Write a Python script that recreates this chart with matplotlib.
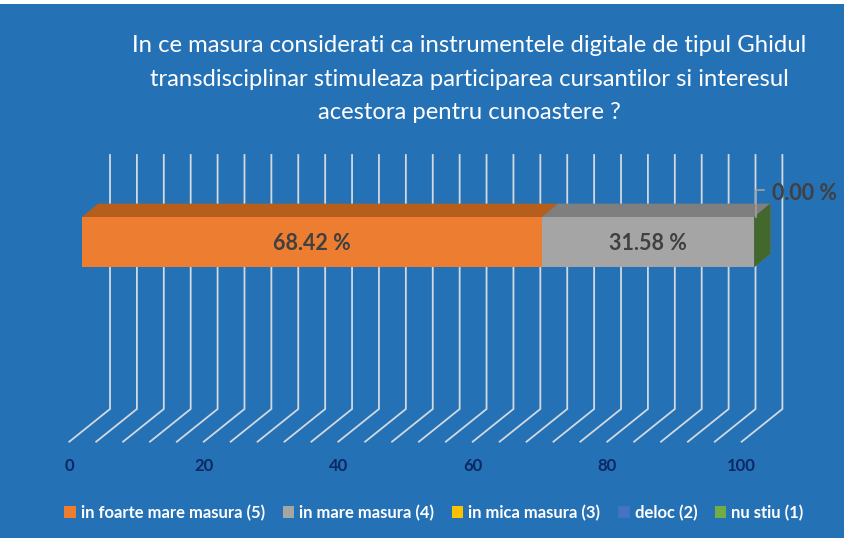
import matplotlib
matplotlib.use("Agg")
import matplotlib.pyplot as plt
from matplotlib.patches import Polygon, Patch, Rectangle
import numpy as np

# data
categories = ["in foarte mare masura (5)", "in mare masura (4)", "in mica masura (3)",
              "deloc (2)", "nu stiu (1)"]
percentages = [68.42, 31.58, 0.0, 0.0, 0.0]
value_ticks = [0, 20, 40, 60, 80, 100]
grid_step = 4
title_lines = [
    "In ce masura considerati ca instrumentele digitale de tipul Ghidul",
    "transdisciplinar stimuleaza participarea cursantilor si interesul",
    "acestora pentru cunoastere ?",
]

# colours
BG = "#2471b5"
front_colors = ["#ED7D31", "#A5A5A5", "#FFC000", "#4472C4", "#70AD47"]
top_colors = ["#B65F1C", "#7F7F7F", "#BF9000", "#2F5597", "#507E32"]
side_colors = ["#B65F1C", "#7F7F7F", "#BF9000", "#2F5597", "#43682B"]
GRID = "#d3d9e1"
LABEL = "#404040"
TICK = "#0b2864"

plt.rcParams["font.family"] = ["Lato", "DejaVu Sans"]

W, H = 844, 538
PX = 6.724          # pixels per value unit
X0 = 69.3           # pixel x of value 0 on the front edge of the floor

# oblique "3d" layout (y in pixels from the top)
FLOOR_Y = 441.7
FLOOR_DX = 40.7 / PX
FLOOR_DY = -32.7
WALL_TOP = 155
BAR_OFF = 12.65 / PX
BAR_TOP, BAR_BOT = 217, 267
BAR_DX = 16 / PX
BAR_DY = -13.4

fig = plt.figure(figsize=(W / 100, H / 100), dpi=100, facecolor=BG)
ax = fig.add_axes([0, 0, 1, 1])
ax.set_facecolor(BG)
ax.set_xlim(-X0 / PX, (W - X0) / PX)
ax.set_ylim(H, 0)
ax.axis("off")

# floor + back wall gridlines
for v in np.arange(0, value_ticks[-1] + 1, grid_step):
    ax.plot([v, v + FLOOR_DX, v + FLOOR_DX], [FLOOR_Y, FLOOR_Y + FLOOR_DY, WALL_TOP],
            color=GRID, lw=1.3, zorder=1, solid_joinstyle="miter")

for t in value_ticks:
    ax.text(t, 466, str(t), ha="center", va="center", color=TICK,
            fontsize=12, fontweight="bold", zorder=2)

# stacked 3d bar
left = 0
for i, val in enumerate(percentages):
    x0 = left + BAR_OFF
    x1 = x0 + val
    z = 3 + i
    side = [(x1, BAR_BOT), (x1, BAR_TOP), (x1 + BAR_DX, BAR_TOP + BAR_DY), (x1 + BAR_DX, BAR_BOT + BAR_DY)]
    ax.add_patch(Polygon(side, closed=True, facecolor=side_colors[i], edgecolor="none", zorder=z))
    top = [(x0, BAR_TOP), (x1, BAR_TOP), (x1 + BAR_DX, BAR_TOP + BAR_DY), (x0 + BAR_DX, BAR_TOP + BAR_DY)]
    ax.add_patch(Polygon(top, closed=True, facecolor=top_colors[i], edgecolor="none", zorder=z))
    ax.barh((BAR_TOP + BAR_BOT) / 2, val, height=BAR_BOT - BAR_TOP, left=x0,
            color=front_colors[i], edgecolor="none", zorder=z)
    if val > 0:
        ax.text((x0 + x1) / 2, 243, f"{val:.2f} %", ha="center", va="center",
                color=LABEL, fontsize=15.5, fontweight="bold", zorder=20)
    left += val

# label of the zero segment with its leader line
end = left + BAR_OFF
ax.plot([end + 0.25, end + 0.25, end + 1.4], [BAR_TOP, 190, 190], color="#a0a0a0", lw=1.2, zorder=15)
ax.text(end + 2.6, 193, f"{percentages[-1]:.2f} %", ha="left", va="center",
        color=LABEL, fontsize=15.5, fontweight="bold", zorder=20)

# title
for k, line in enumerate(title_lines):
    fig.text(469 / W, 1 - (51.7 + 33.8 * k) / H, line, ha="center", va="baseline",
             color="white", fontsize=17.2)

# legend
handles = [Patch(facecolor=c, edgecolor="none") for c in front_colors]
leg = fig.legend(handles, categories, loc="center", bbox_to_anchor=(434 / W, 1 - 513 / H),
                 ncol=5, frameon=False, labelcolor="white",
                 prop={"weight": "bold", "size": 12},
                 handlelength=0.7, handleheight=0.7, handletextpad=0.3, columnspacing=1.05)

fig.patches.append(Rectangle((0, 1 - 4 / H), 1, 4 / H, transform=fig.transFigure,
                             facecolor="white", edgecolor="none"))

fig.savefig("out.png", dpi=100, facecolor=BG)
